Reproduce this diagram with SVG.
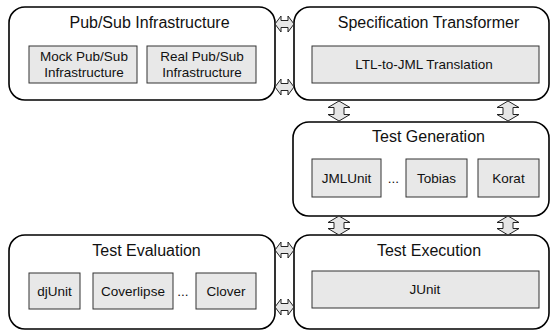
<svg xmlns="http://www.w3.org/2000/svg" width="551" height="330" viewBox="0 0 551 330">
<style>
.outer{fill:#fff;stroke:#000;stroke-width:1.6}
.inner{fill:#e8e8e8;stroke:#333;stroke-width:1}
.title{font-family:"Liberation Sans",Arial,sans-serif;font-size:16px;fill:#111;text-anchor:middle}
.lbl{font-family:"Liberation Sans",Arial,sans-serif;font-size:13.5px;fill:#111;text-anchor:middle}
.arr{fill:#e6e6e6;stroke:#222;stroke-width:1}
</style>
<rect width="551" height="330" fill="#fff"/>
<g id="pubsub">
<rect class="outer" x="9" y="7" width="266" height="93" rx="16"/>
<text class="title" x="149.5" y="28">Pub/Sub Infrastructure</text>
<rect class="inner" x="29" y="46" width="108" height="37"/>
<text class="lbl" x="84" y="61">Mock Pub/Sub</text>
<text class="lbl" x="84" y="77">Infrastructure</text>
<rect class="inner" x="147" y="46" width="109" height="37"/>
<text class="lbl" x="202" y="61">Real Pub/Sub</text>
<text class="lbl" x="202" y="77">Infrastructure</text>
</g>
<g id="spec">
<rect class="outer" x="294" y="7" width="255" height="93" rx="16"/>
<text class="title" x="428.5" y="28">Specification Transformer</text>
<rect class="inner" x="312" y="46" width="227" height="37"/>
<text class="lbl" x="424" y="69">LTL-to-JML Translation</text>
</g>
<g id="gen">
<rect class="outer" x="293" y="122" width="256" height="94" rx="16"/>
<text class="title" x="428.5" y="142">Test Generation</text>
<rect class="inner" x="312" y="159" width="69" height="38"/>
<text class="lbl" x="346.5" y="183">JMLUnit</text>
<text class="lbl" x="393.5" y="183">...</text>
<rect class="inner" x="406" y="159" width="61" height="38"/>
<text class="lbl" x="436.5" y="183">Tobias</text>
<rect class="inner" x="478" y="159" width="61" height="38"/>
<text class="lbl" x="508.5" y="183">Korat</text>
</g>
<g id="eval">
<rect class="outer" x="9" y="235" width="266" height="94" rx="16"/>
<text class="title" x="146.5" y="256">Test Evaluation</text>
<rect class="inner" x="29" y="273" width="51" height="36"/>
<text class="lbl" x="54.5" y="296">djUnit</text>
<rect class="inner" x="93" y="273" width="80" height="36"/>
<text class="lbl" x="133" y="296">Coverlipse</text>
<text class="lbl" x="183" y="296">...</text>
<rect class="inner" x="196" y="273" width="60" height="36"/>
<text class="lbl" x="226" y="296">Clover</text>
</g>
<g id="exec">
<rect class="outer" x="294" y="235" width="255" height="94" rx="16"/>
<text class="title" x="429" y="256">Test Execution</text>
<rect class="inner" x="312" y="271" width="227" height="37"/>
<text class="lbl" x="425" y="294">JUnit</text>
</g>
<g id="connectors">
<polygon class="arr" points="275,24 281,16 281,20.5 288,20.5 288,16 294,24 288,32 288,27.5 281,27.5 281,32"/>
<polygon class="arr" points="275,87 281,79 281,83.5 288,83.5 288,79 294,87 288,95 288,90.5 281,90.5 281,95"/>
<polygon class="arr" points="275,250 281,242 281,246.5 288,246.5 288,242 294,250 288,258 288,253.5 281,253.5 281,258"/>
<polygon class="arr" points="275,307 281,299 281,303.5 288,303.5 288,299 294,307 288,315 288,310.5 281,310.5 281,315"/>
<polygon class="arr" points="339,101 350,107.5 344,107.5 344,114.5 350,114.5 339,121 328,114.5 334,114.5 334,107.5 328,107.5"/>
<polygon class="arr" points="508,101 519,107.5 513,107.5 513,114.5 519,114.5 508,121 497,114.5 503,114.5 503,107.5 497,107.5"/>
<polygon class="arr" points="339,216 350,222.5 344,222.5 344,228.5 350,228.5 339,235 328,228.5 334,228.5 334,222.5 328,222.5"/>
<polygon class="arr" points="508,216 519,222.5 513,222.5 513,228.5 519,228.5 508,235 497,228.5 503,228.5 503,222.5 497,222.5"/>
</g>
</svg>
